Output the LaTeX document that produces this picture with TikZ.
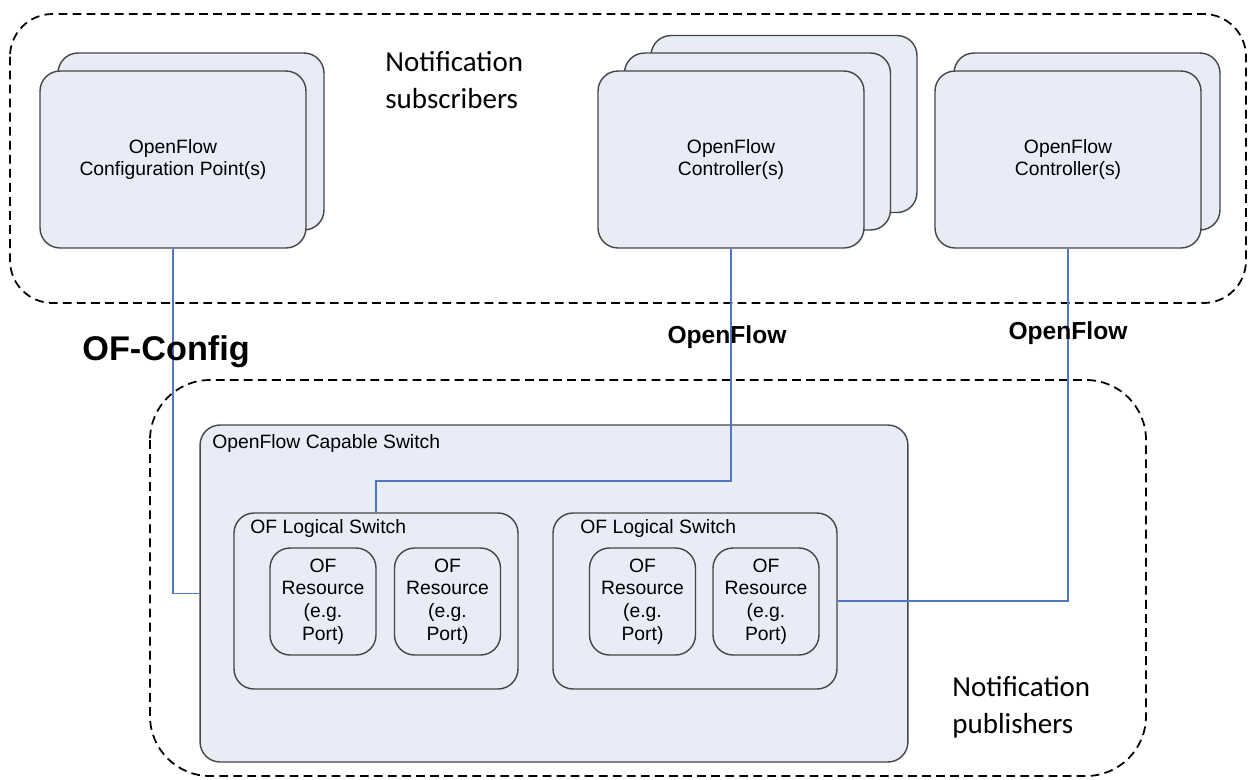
\documentclass[tikz,border=0pt]{standalone}
\usepackage{fontspec}
\setmainfont{Liberation Sans}
\newfontfamily\notefont{Carlito}
\definecolor{boxfill}{RGB}{231,236,246}
\definecolor{boxline}{RGB}{70,70,70}
\definecolor{linkblue}{RGB}{79,120,196}

\begin{document}
\begin{tikzpicture}[x=0.02cm,y=-0.02cm,
  zone/.style={draw=black,line width=1pt,dash pattern=on 5pt off 3pt},
  unit/.style={draw=boxline,fill=boxfill,line width=0.8pt,rounded corners=0.4cm,
    minimum width=5.32cm,minimum height=3.54cm,align=center,inner sep=0pt,
    font=\fontsize{11}{13}\selectfont},
  frame/.style={draw=boxline,fill=boxfill,line width=0.8pt,rounded corners=0.4cm,inner sep=0pt},
  res/.style={frame,minimum width=2.12cm,minimum height=2.14cm,align=center,
    font=\fontsize{11}{13}\selectfont},
  title/.style={anchor=west,inner sep=0pt,font=\fontsize{11}{13}\selectfont},
  link/.style={draw=linkblue,line width=0.6pt},
  note/.style={anchor=west,align=left,inner sep=0pt,font=\notefont\fontsize{16.5}{21}\selectfont}]
\useasboundingbox (0,0) rectangle (1248,779);

% dashed regions
\draw[zone,rounded corners=0.85cm] (10,14) rectangle (1246,303);
\draw[zone,rounded corners=1.2cm] (150,380) rectangle (1146,776);

% subscribers
\node[unit] (cfgB) at (191,141.5) {};
\node[unit] (cfgA) at (173,159.5) {OpenFlow\\Configuration Point(s)};
\node[unit] (ctlC) at (784,124) {};
\node[unit] (ctlD) at (757.5,141.5) {};
\node[unit] (ctlA) at (731,159.5) {OpenFlow\\Controller(s)};
\node[unit] (ctlE) at (1087,141.5) {};
\node[unit] (ctlB) at (1068,159.5) {OpenFlow\\Controller(s)};

% switch
\node[frame,minimum width=14.16cm,minimum height=6.74cm] (ofsw) at (554,593.5) {};
\node[title] (ofswT) at (212,443) {OpenFlow Capable Switch};
\node[frame,minimum width=5.68cm,minimum height=3.52cm] (lsA) at (376,601) {};
\node[frame,minimum width=5.68cm,minimum height=3.52cm] (lsB) at (695,601) {};
\node[title] (lsAT) at (250,528) {OF Logical Switch};
\node[title] (lsBT) at (580,528) {OF Logical Switch};
\node[res] (resA) at (323,601.5) {OF\\Resource\\(e.g.\\Port)};
\node[res] (resB) at (447.5,601.5) {OF\\Resource\\(e.g.\\Port)};
\node[res] (resC) at (642.5,601.5) {OF\\Resource\\(e.g.\\Port)};
\node[res] (resD) at (766,601.5) {OF\\Resource\\(e.g.\\Port)};

% connectors
\coordinate (kneeA) at (376,481);
\draw[link] (cfgA.south) |- (ofsw.west);
\draw[link] (ctlA.south) |- (kneeA) -- (lsA.north);
\draw[link] (ctlB.south) |- (lsB.east);

% labels
\node[note] (subs) at (385,80.5) {Notification\\subscribers};
\node[note] (pubs) at (952,707) {Notification\\publishers};
\node[anchor=west,inner sep=0pt,font=\fontsize{19.5}{23}\selectfont\bfseries] (ofcfg) at (82,352) {OF-Config};
\node[inner sep=0pt,font=\fontsize{14}{17}\selectfont\bfseries] (ofA) at (727,337) {OpenFlow};
\node[inner sep=0pt,font=\fontsize{14}{17}\selectfont\bfseries] (ofB) at (1068,333) {OpenFlow};
\end{tikzpicture}
\end{document}
